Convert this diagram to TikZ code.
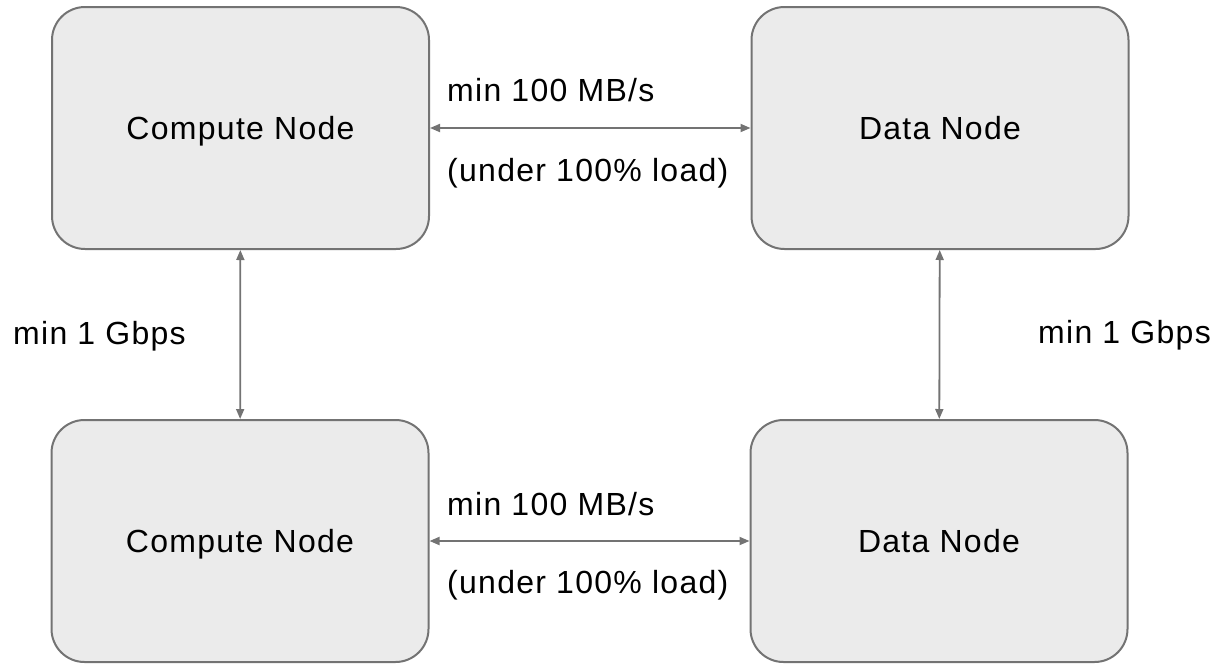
\documentclass[tikz,border=0pt]{standalone}
\usepackage{fontspec}
\setmainfont{Liberation Sans}[LetterSpace=4]
\usetikzlibrary{arrows.meta}
\definecolor{boxfill}{HTML}{EBEBEB}
\definecolor{linegray}{HTML}{737373}
\begin{document}
\begin{tikzpicture}[x=1pt,y=-1pt,
    machine/.style={draw=linegray,line width=2pt,fill=boxfill,rounded corners=33pt,minimum width=377pt,minimum height=242pt,text depth=0pt},
    link/.style={linegray,line width=1.8pt,{Triangle[length=10pt,width=8pt]}-{Triangle[length=10pt,width=8pt]}},
    lbl/.style={anchor=base west,inner sep=0pt}]
    \fontsize{32}{38}\selectfont
    \useasboundingbox (0,0) rectangle (1224,664); % Define centres
    \coordinate (P1) at (240.5,128); \coordinate (P2) at (940,128); \coordinate (P3) at (240,541); \coordinate (P4) at (939,541);

    % Draw boxes
    \node[machine] (comp1) at (P1) {Compute Node};
    \node[machine] (data1) at (P2) {Data Node};
    \node[machine] (comp2) at (P3) {Compute Node};
    \node[machine] (data2) at (P4) {Data Node};

    % Draw links
    \draw[link] (comp1) -- (data1);
    \draw[link] (comp2) -- (data2);
    \draw[link] (comp1) -- (comp2);
    \draw[link] (data1) -- (data2);

    % Add link labels
    \node[lbl] (top1) at (447,101) {min 100 MB/s};
    \node[lbl] (top2) at (447,181) {(under 100\% load)};
    \node[lbl] (bot1) at (447,515) {min 100 MB/s};
    \node[lbl] (bot2) at (447,593) {(under 100\% load)};
    \node[lbl] (left) at (13,344) {min 1 Gbps};
    \node[lbl] (right) at (1038,343) {min 1 Gbps};

  \end{tikzpicture}
\end{document}
